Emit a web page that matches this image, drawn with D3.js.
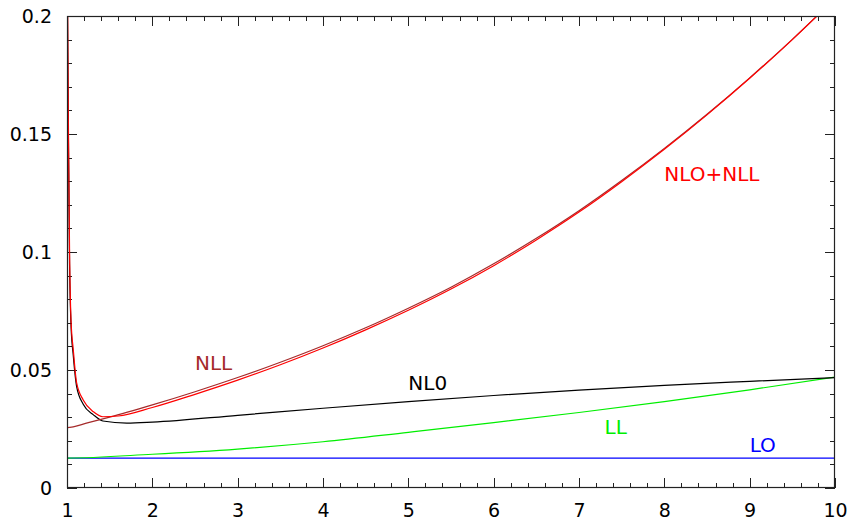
<!DOCTYPE html>
<html><head><meta charset="utf-8">
<script src="https://cdn.jsdelivr.net/npm/d3@7"></script>
<style>body{margin:0;background:#fff}svg{display:block}</style>
</head><body>
<svg id="c" width="852" height="521"></svg>
<script>
// ---- data ----
const xTicks = [1,2,3,4,5,6,7,8,9,10];
const yTicks = [0,0.05,0.1,0.15,0.2];
const yTickLabels = ["0","0.05","0.1","0.15","0.2"];

const loX = [1,10];
const loY = [0.0127,0.0127];

const llX = [1,1.002,2,3,4,5,6,7,8,9,10];
const llY = [0.0216,0.0127,0.0143,0.0165,0.0196,0.0236,0.0277,0.0320,0.0366,0.0416,0.0470];

const nloX = [1.006,1.016,1.03,1.047,1.074,1.113,1.19,1.31,1.42,1.7,2,3,4,5,6,7,8,9,10];
const nloY = [0.2,0.150,0.095,0.069,0.056,0.043,0.0355,0.0310,0.0284,0.0275,0.0279,0.0308,0.0338,0.0366,0.0392,0.0415,0.0435,0.0452,0.0468];

const nllX = [1,1.002,1.25,1.5,2,2.5,3,3.5,4,4.5,5,5.5,6,6.5,7,7.5,8,8.5,9,9.5,9.8];
const nllY = [0.034,0.0256,0.0277,0.0300,0.0352,0.0408,0.0468,0.0533,0.0603,0.0679,0.0762,0.0851,0.0950,0.1058,0.1175,0.1303,0.1439,0.1584,0.1738,0.1901,0.2004];

const nlonllX = [1.008,1.016,1.03,1.047,1.074,1.113,1.19,1.31,1.42,1.6,2,2.5,3,3.5,4,4.5,5,5.5,6,6.5,7,7.5,8,8.5,9,9.5,9.8];
const nlonllY = [0.2,0.156,0.100,0.0712,0.0585,0.0445,0.0373,0.0323,0.0302,0.0305,0.0341,0.0397,0.0457,0.0522,0.0593,0.0670,0.0753,0.0843,0.0942,0.1051,0.1169,0.1298,0.1435,0.1581,0.1736,0.1900,0.2004];

const labels = [
  {text:"NLO+NLL", x:8.0, y:0.1300, color:"#ff0000"},
  {text:"NLL", x:2.5, y:0.0500, color:"#a52a2a"},
  {text:"NL0", x:5.0, y:0.0417, color:"#000000"},
  {text:"LL", x:7.3, y:0.0229, color:"#00ee00"},
  {text:"LO", x:9.0, y:0.0153, color:"#0000ff"}
];

// ---- chart ----
const svg = d3.select("#c");
const L=67, R=835, T=16, B=488;
const x = d3.scaleLinear().domain([1,10]).range([L,R]);
const y = d3.scaleLinear().domain([0,0.2]).range([B,T]);
const font = "DejaVu Sans, sans-serif";

svg.append("defs").append("clipPath").attr("id","clip")
  .append("rect").attr("x",L).attr("y",T).attr("width",R-L).attr("height",B-T);

// ticks (inward, mirrored)
const xMinor = d3.range(1,10.0001,0.2);
const yMinor = d3.range(0,0.2001,0.01);
const tk = svg.append("g").attr("stroke","#222").attr("stroke-width",1);
const isMajX = v => Math.abs(v-Math.round(v))<1e-6;
const isMajY = v => Math.abs(v/0.05-Math.round(v/0.05))<1e-6;
xMinor.forEach(v=>{
  const len = isMajX(v)?10:5, px=Math.round(x(v))+0.5;
  tk.append("line").attr("x1",px).attr("x2",px).attr("y1",B).attr("y2",B-len);
  tk.append("line").attr("x1",px).attr("x2",px).attr("y1",T).attr("y2",T+len);
});
yMinor.forEach(v=>{
  const len = isMajY(v)?10:5, py=Math.round(y(v))+0.5;
  tk.append("line").attr("y1",py).attr("y2",py).attr("x1",L).attr("x2",L+len);
  tk.append("line").attr("y1",py).attr("y2",py).attr("x1",R).attr("x2",R-len);
});

// tick labels via axes
const xAxis = svg.append("g").attr("transform",`translate(0,${B})`)
  .call(d3.axisBottom(x).tickValues(xTicks).tickFormat(d3.format("d")).tickSize(0).tickPadding(16));
const yAxis = svg.append("g").attr("transform",`translate(${L},0)`)
  .call(d3.axisLeft(y).tickValues(yTicks).tickFormat((d,i)=>yTickLabels[i]).tickSize(0).tickPadding(15));
[xAxis,yAxis].forEach(a=>{
  a.select(".domain").remove();
  a.selectAll("text").attr("font-family",font).attr("font-size",19).attr("fill","#000");
});

// curves
const g = svg.append("g").attr("clip-path","url(#clip)").attr("fill","none").attr("stroke-width",1.2);
const mk = (xs,ys) => xs.map((v,i)=>[v,ys[i]]);
const line = d3.line().x(d=>x(d[0])).y(d=>y(d[1])).curve(d3.curveMonotoneX);
const series = [
  {d:mk(loX,loY), c:"#0000ff"},
  {d:mk(llX,llY), c:"#00ee00"},
  {d:mk(nloX,nloY), c:"#000000"},
  {d:mk(nllX,nllY), c:"#a52a2a"},
  {d:mk(nlonllX,nlonllY), c:"#ff0000"}
];
series.forEach(s=> g.append("path").attr("d",line(s.d)).attr("stroke",s.c));

// border
svg.append("rect").attr("x",L+0.5).attr("y",T+0.5).attr("width",R-L-1).attr("height",B-T-1)
  .attr("fill","none").attr("stroke","#222").attr("stroke-width",1.2);

// labels
labels.forEach(l=> svg.append("text").attr("x",x(l.x)).attr("y",y(l.y))
  .attr("font-family",font).attr("font-size",20).attr("fill",l.color).text(l.text));
</script>
</body></html>
